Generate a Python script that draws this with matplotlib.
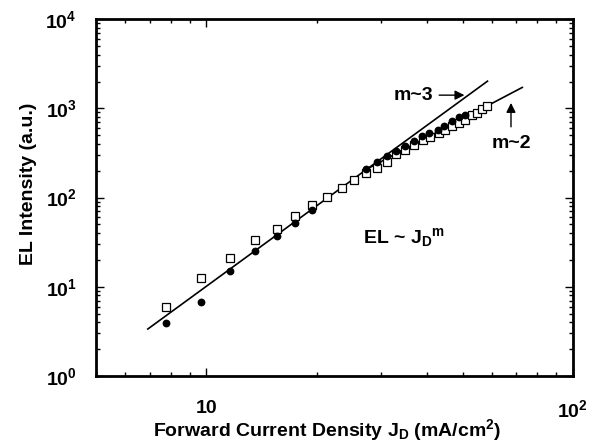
"""
EL intensity vs forward current density (log-log)
"""

import numpy as np
import matplotlib
matplotlib.use("Agg")
import matplotlib.pyplot as plt
from matplotlib.ticker import FixedLocator, LogLocator, NullFormatter

# open squares
sq_x = [7.74, 9.69, 11.6, 13.6, 15.6, 17.5, 19.4, 21.3, 23.4, 25.3, 27.3, 29.2,
        31.1, 33.0, 34.9, 36.8, 38.9, 40.8, 43.0, 44.9, 46.8, 48.8, 50.9, 53.1,
        54.7, 56.5, 58.3]
sq_y = [5.93, 12.5, 21.2, 33.4, 44.4, 62.5, 82.4, 100.5, 127, 156, 187, 212,
        248, 305, 341, 387, 441, 472, 524, 571, 632, 678, 739, 840,
        877, 972, 1059]

# filled circles
ci_x = [7.74, 9.69, 11.6, 13.6, 15.6, 17.5, 19.4, 27.3, 29.2, 31.1, 33.0, 34.9,
        36.8, 38.8, 40.6, 42.8, 44.6, 46.8, 48.8, 50.9]
ci_y = [3.89, 6.75, 15.1, 25.4, 37.0, 52.2, 72.4, 209, 248, 294, 335, 383,
        434, 489, 524, 571, 632, 720, 792, 840]

# fitted power laws
m3_x = [6.92, 58.5]
m3_y = [3.36, 2019]
m2_x = [27.3, 72.8]
m2_y = [207, 1718]

plt.rcParams['font.family'] = 'Liberation Sans'
plt.rcParams['font.weight'] = 'bold'
plt.rcParams['axes.labelweight'] = 'bold'
plt.rcParams['mathtext.fontset'] = 'custom'
plt.rcParams['mathtext.rm'] = 'Liberation Sans:bold'
plt.rcParams['mathtext.it'] = 'Liberation Sans:bold'
plt.rcParams['mathtext.bf'] = 'Liberation Sans:bold'

fig = plt.figure(figsize=(5.93, 4.46), dpi=100)
ax = fig.add_axes([0.162, 0.157, 0.804, 0.800])

ax.plot(m3_x, m3_y, 'k-', lw=1.2)
ax.plot(m2_x, m2_y, 'k-', lw=1.2)
ax.plot(sq_x, sq_y, 's', mfc='white', mec='black', mew=0.9, ms=5.8, ls='none')
ax.plot(ci_x, ci_y, 'o', mfc='black', mec='black', ms=4.6, ls='none')

ax.set_xscale('log')
ax.set_yscale('log')
ax.set_xlim(5, 100)
ax.set_ylim(1, 1e4)

ax.xaxis.set_major_locator(FixedLocator([10, 100]))
ax.set_xticklabels(['10', r'$\mathregular{10^2}$'])
ax.xaxis.set_minor_locator(LogLocator(base=10, subs=np.arange(2, 10)))
ax.xaxis.set_minor_formatter(NullFormatter())
ax.yaxis.set_major_locator(FixedLocator([1, 10, 100, 1000, 10000]))
ax.set_yticklabels([r'$\mathregular{10^%d}$' % i for i in range(5)])
ax.yaxis.set_minor_locator(LogLocator(base=10, subs=np.arange(2, 10)))
ax.yaxis.set_minor_formatter(NullFormatter())

ax.tick_params(which='both', direction='in', top=True, right=True, width=1, labelsize=14)
ax.tick_params(which='major', length=5.5)
ax.tick_params(which='minor', length=3)
ax.tick_params(axis='x', pad=17)
ax.tick_params(axis='y', pad=14)
for sp in ax.spines.values():
    sp.set_linewidth(2)

ax.set_xlabel(r'Forward Current Density J$_\mathregular{D}$ (mA/cm$^\mathregular{2}$)',
              fontsize=14)
ax.set_ylabel('EL Intensity (a.u.)', fontsize=14)
ax.xaxis.set_label_coords(0.485, -0.114)
ax.yaxis.set_label_coords(-0.124, 0.538)

ax.annotate('m~3', xy=(51.5, 1407), xytext=(41.7, 1407), fontsize=14,
            ha='right', va='center',
            arrowprops=dict(arrowstyle='-|>', color='black', lw=1, mutation_scale=14))
ax.annotate('m~2', xy=(67.8, 1237), xytext=(67.8, 501), fontsize=14,
            ha='center', va='top',
            arrowprops=dict(arrowstyle='-|>', color='black', lw=1, mutation_scale=14,
                            shrinkA=4))
ax.text(26.7, 30.9, r'EL ~ J$_\mathregular{D}$$^\mathregular{m}$', fontsize=14,
        ha='left', va='baseline')

fig.savefig('out.png', dpi=100)
